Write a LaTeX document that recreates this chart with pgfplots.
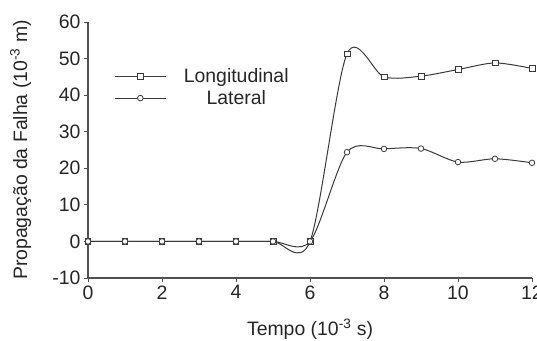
\documentclass[border=0pt]{standalone}
\usepackage{fontspec}
\setmainfont{Liberation Sans}
\usepackage{pgfplots}
\pgfplotsset{compat=1.18}
\definecolor{ln}{HTML}{3A3A3A}
\definecolor{ax}{HTML}{505050}
\begin{document}
\begin{tikzpicture}
\begin{axis}[
  at={(0,0)}, anchor=south west,
  scale only axis, width=444bp, height=256bp,
  xmin=0, xmax=12, ymin=-10, ymax=60,
  axis x line*=bottom, axis y line*=left,
  xtick={0,2,...,12}, ytick={-10,0,...,60},
  minor tick num=0,
  tick align=outside, major tick length=4bp,
  tick style={ax, line width=0.9bp},
  axis line style={ax, line width=1.1bp},
  every tick label/.append style={font=\fontsize{19.5}{23}\selectfont, text=black!85},
  label style={font=\fontsize{19.5}{23}\selectfont, text=black!85},
  /pgf/number format/assume math mode=true,
  xlabel={Tempo (10\textsuperscript{-3} s)},
  ylabel={Propagação da Falha (10\textsuperscript{-3} m)},
  xlabel style={at={(axis description cs:0.5,0)}, anchor=north, yshift=-37bp},
  ylabel style={at={(axis description cs:-0.12,0.5)}, anchor=south},
  legend style={draw=none, fill=none, at={(0.06,0.745)}, anchor=west,
    font=\fontsize{19.5}{23}\selectfont, text=black!85, row sep=2bp, inner sep=0pt,
    /tikz/every odd column/.append style={column sep=16bp}},
  legend cell align=center,
  legend image code/.code={\draw[mark repeat=2,mark phase=2] plot coordinates {(0bp,0bp)(25bp,0bp)(50bp,0bp)};},
]
\addplot[ln, line width=1bp, smooth, tension=0.5, mark=square*, mark size=2.9bp, mark options={fill=white, solid, line width=0.8bp}]
coordinates {(0,0)(1,0)(2,0)(3,0)(4,0)(5,0)(6,0)(7,51.3)(8,45.0)(9,45.2)(10,47.0)(11,48.8)(12,47.3)};
\addlegendentry{Longitudinal}
\addplot[ln, line width=1bp, smooth, tension=0.5, mark=*, mark size=2.8bp, mark options={fill=white, solid, line width=0.8bp}]
coordinates {(0,0)(1,0)(2,0)(3,0)(4,0)(5,0)(6,0)(7,24.4)(8,25.3)(9,25.4)(10,21.7)(11,22.6)(12,21.5)};
\addlegendentry{Lateral}
\end{axis}
\pgfresetboundingbox
\path[use as bounding box] (-88bp,-63bp) rectangle (449bp,278bp);
\end{tikzpicture}
\end{document}
